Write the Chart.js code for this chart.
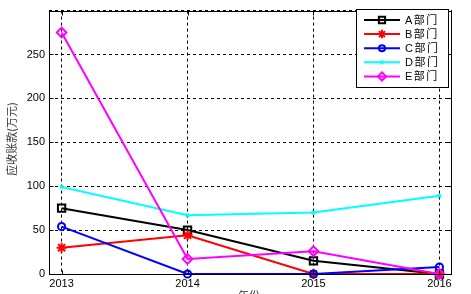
<!DOCTYPE html>
<html>
<head>
<meta charset="utf-8">
<script src="https://cdn.jsdelivr.net/npm/chart.js@4/dist/chart.umd.min.js"></script>
<style>
  html, body { margin: 0; padding: 0; background: #fff; }
  #wrap { width: 471px; height: 294px; }
</style>
</head>
<body>
<div id="wrap"><canvas id="chart" width="471" height="294"></canvas></div>
<script>
// 数据
const years = [2013, 2014, 2015, 2016];
const deptNames = ['A部门', 'B部门', 'C部门', 'D部门', 'E部门'];
const deptA = [75, 50, 15, 0];
const deptB = [30, 44, 0, 0];
const deptC = [54, 0, 0, 8];
const deptD = [99, 67, 70, 89];
const deptE = [275, 17, 26, 0];
const yTickValues = [0, 50, 100, 150, 200, 250, 300];
const yTitle = '应收账款(万元)';
const xTitle = '年份';

const seriesValues = [deptA, deptB, deptC, deptD, deptE];
const colors = ['#000000', '#ff0000', '#0000ff', '#00ffff', '#ff00ff'];
const markers = [
  { style: 'rect', radius: 5.2 },
  { style: 'star', radius: 5 },
  { style: 'circle', radius: 3.6 },
  { style: 'crossRot', radius: 2.2 },
  { style: 'rectRot', radius: 4.8 }
];

const datasets = seriesValues.map(function(vals, i) {
  return {
    label: deptNames[i],
    data: years.map(function(y, j) { return { x: y, y: vals[j] }; }),
    borderColor: colors[i],
    backgroundColor: colors[i],
    borderWidth: 2,
    tension: 0,
    pointStyle: markers[i].style,
    pointRadius: markers[i].radius,
    pointBorderWidth: 2,
    pointBorderColor: colors[i],
    pointBackgroundColor: i === 1 ? colors[i] : 'rgba(0,0,0,0)',
    order: 5 - i,
    clip: false
  };
});

// 边框、刻度、标题、图例
const decorPlugin = {
  id: 'decor',
  afterDraw(chart) {
    const ctx = chart.ctx;
    const a = chart.chartArea;
    const xs = chart.scales.x, ys = chart.scales.y;
    const L = Math.round(a.left) + 0.5, R = Math.round(a.right) - 0.5;
    const T = Math.round(a.top) + 0.5, B = Math.round(a.bottom) + 0.5;
    ctx.save();
    ctx.strokeStyle = '#000';
    ctx.lineWidth = 1;
    ctx.setLineDash([]);
    ctx.strokeRect(L, T, R - L, B - T);
    // 内向刻度
    ctx.beginPath();
    years.forEach(function(v) {
      const px = Math.round(xs.getPixelForValue(v)) + 0.5;
      ctx.moveTo(px, B); ctx.lineTo(px, B - 4);
      ctx.moveTo(px, T); ctx.lineTo(px, T + 4);
    });
    yTickValues.forEach(function(v) {
      const py = Math.round(ys.getPixelForValue(v)) + 0.5;
      ctx.moveTo(L, py); ctx.lineTo(L + 4, py);
      ctx.moveTo(R, py); ctx.lineTo(R - 4, py);
    });
    ctx.stroke();

    // 坐标轴标题
    ctx.fillStyle = '#333';
    ctx.font = '11px "Noto Sans CJK SC"';
    ctx.textAlign = 'center';
    ctx.textBaseline = 'middle';
    ctx.save();
    ctx.translate(12, 139);
    ctx.rotate(-Math.PI / 2);
    ctx.fillText(yTitle, 0, 0);
    ctx.restore();
    ctx.fillText(xTitle, 249, 296);

    // 图例
    const bx = 356.5, by = 9.5, bw = 92, bh = 78;
    ctx.fillStyle = '#fff';
    ctx.fillRect(bx, by, bw, bh);
    ctx.strokeStyle = '#000';
    ctx.strokeRect(bx, by, bw, bh);
    ctx.font = '11px "Liberation Sans", "Noto Sans CJK SC"';
    ctx.letterSpacing = '1.5px';
    ctx.textAlign = 'left';
    chart.data.datasets.forEach(function(ds, i) {
      const y = 20 + i * 14.1;
      ctx.strokeStyle = ds.borderColor;
      ctx.fillStyle = ds.pointBackgroundColor;
      ctx.lineWidth = 2;
      ctx.beginPath();
      ctx.moveTo(364, y); ctx.lineTo(400, y);
      ctx.stroke();
      Chart.helpers.drawPoint(ctx, {
        pointStyle: ds.pointStyle, radius: ds.pointRadius * 0.85, rotation: 0, borderWidth: 2
      }, 382, y);
      ctx.fillStyle = '#000';
      ctx.fillText(ds.label, 405, y + 0.5);
    });
    ctx.restore();
  }
};

const ctx = document.getElementById('chart').getContext('2d');
const lineChart = new Chart(ctx, {
  type: 'line',
  data: { datasets: datasets },
  options: {
    responsive: false,
    animation: false,
    events: [],
    layout: { padding: { left: 0, right: 19, top: 3, bottom: 0 } },
    plugins: { legend: { display: false }, tooltip: { enabled: false } },
    scales: {
      x: {
        type: 'linear',
        min: 2012.9,
        max: 2016.1,
        afterBuildTicks: function(scale) {
          scale.ticks = years.map(function(v) { return { value: v }; });
        },
        afterFit: function(scale) { scale.height = 20; },
        grid: { color: '#000', lineWidth: 1, drawTicks: false },
        border: { display: false, dash: [3, 3] },
        ticks: {
          color: '#000',
          padding: 3,
          maxRotation: 0,
          font: { family: '"Liberation Sans", Arial', size: 11 },
          callback: function(v) { return String(v); }
        }
      },
      y: {
        min: 0,
        max: 300,
        afterBuildTicks: function(scale) {
          scale.ticks = yTickValues.map(function(v) { return { value: v }; });
        },
        afterFit: function(scale) { scale.width = 49; },
        grid: { color: '#000', lineWidth: 1, drawTicks: false },
        border: { display: false, dash: [3, 3] },
        ticks: {
          color: '#000',
          padding: 4,
          font: { family: '"Liberation Sans", Arial', size: 11 },
          callback: function(v) { return v === 300 ? '' : String(v); }
        }
      }
    }
  },
  plugins: [decorPlugin]
});
</script>
</body>
</html>
